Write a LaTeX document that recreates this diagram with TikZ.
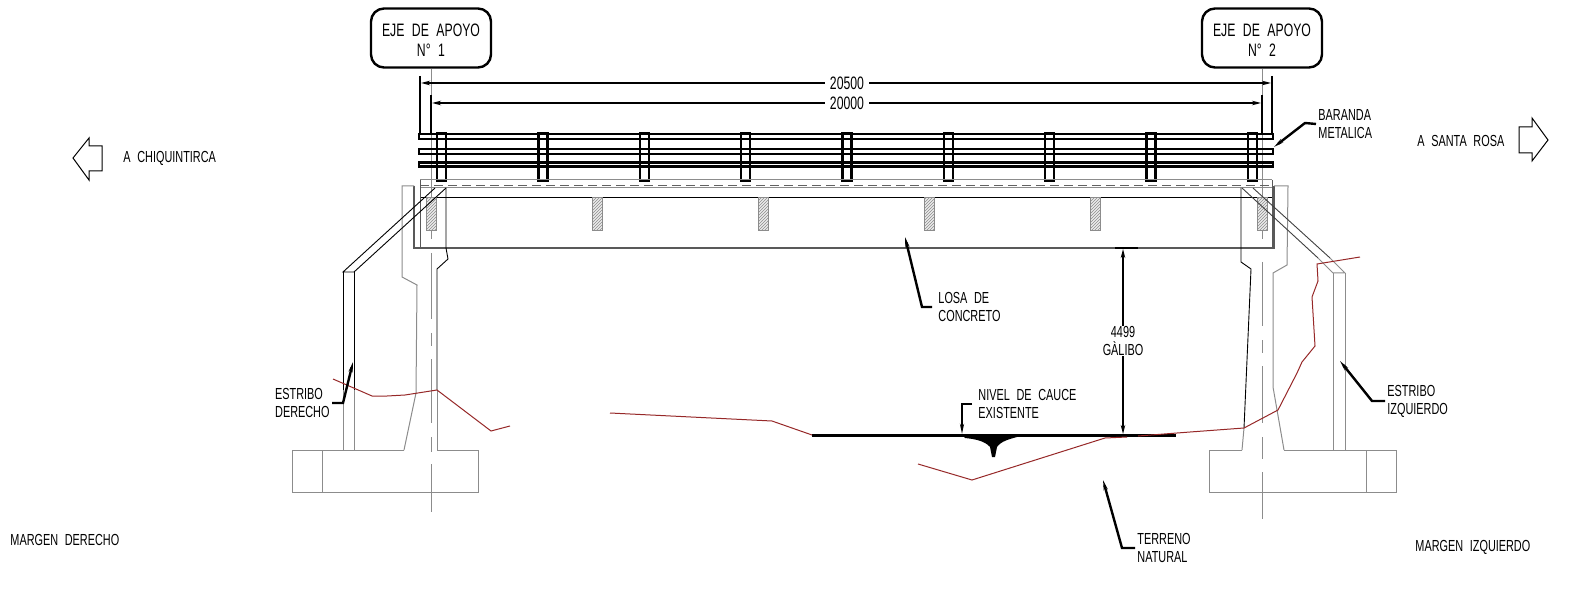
\documentclass[tikz,border=0pt]{standalone}
\usepackage{fontspec}
\setmainfont{Liberation Sans}[FakeStretch=0.68,WordSpace=2.2]
\usetikzlibrary{arrows.meta,patterns}
\definecolor{groundred}{RGB}{150,40,40}
\definecolor{cadgray}{RGB}{140,140,140}

\begin{document}
\begin{tikzpicture}[x=1pt,y=-1pt,line width=0.9pt,
  note/.style={align=left,font=\fontsize{16}{18}\selectfont,inner xsep=2pt,inner ysep=0pt},
  axisbox/.style={draw,line width=2.4pt,rounded corners=13pt,minimum width=120pt,minimum height=59pt,align=center,font=\fontsize{18}{20}\selectfont,inner sep=0pt},
  dimtext/.style={font=\fontsize{18}{18}\selectfont,inner sep=0pt,minimum width=44pt},
  leader/.style={line width=2.4pt,-{Stealth[length=10pt,width=4pt]}},
  dimline/.style={line width=2.4pt,-{Stealth[length=9pt,width=4.5pt]}},
  thin gray/.style={cadgray,line width=1pt},
  rail/.style={draw,line width=2pt},
  post/.style={draw,line width=2.4pt},
  beam/.style={draw=cadgray,line width=1pt,pattern=north east lines,pattern color=cadgray,preaction={fill=gray!15}},
  ground/.style={groundred,line width=1pt}]

  \useasboundingbox (0,0) rectangle (1573,593);

  % axes
  \node[axisbox] (eje1) at (431,38) {\rule{0pt}{18pt}EJE DE APOYO\\N° 1};
  \node[axisbox] (eje2) at (1262,38) {\rule{0pt}{18pt}EJE DE APOYO\\N° 2};
  \draw[thin gray] (eje1.south) -- (431,239) (431,253) -- (431,319) (431,333) -- (431,346)
    (431,359) -- (431,423) (431,437) -- (431,452) (431,464) -- (431,512);
  \draw[thin gray] (eje2.south) -- (1262,239) (1262,262) -- (1262,326) (1262,340) -- (1262,353)
    (1262,366) -- (1262,423) (1262,437) -- (1262,459) (1262,472) -- (1262,519);

  % dimensions
  \node[dimtext] (d1) at (847,83) {20500};
  \node[dimtext] (d2) at (847,103) {20000};
  \draw[dimline] (d1.west) -- (421,83);
  \draw[dimline] (d1.east) -- (1271,83);
  \draw[dimline] (d2.west) -- (432,103);
  \draw[dimline] (d2.east) -- (1261,103);
  \draw[line width=2.4pt] (420,76) -- (420,133) (431,95) -- (431,133);
  \draw[line width=2.4pt] (1272,76) -- (1272,133) (1262,95) -- (1262,133);

  % handrail
  \draw[rail] (419,134) rectangle (1273,139);
  \draw[rail] (419,149) rectangle (1273,154);
  \draw[rail,line width=2.6pt] (419,162.5) rectangle (1273,166.5);
  \foreach \i in {0,...,8}
    \draw[post] ({441.5+101.35*\i-4.5},133) rectangle ({441.5+101.35*\i+4.5},180.5);

  % deck
  \draw[thin gray] (420,180) -- (1272,180) (420,188) -- (1272,188);
  \draw[cadgray!70!black,line width=1pt,dash pattern=on 9pt off 5pt] (420,186) -- (1272,186);
  \draw[line width=1pt] (420,198) -- (1272,198);
  \draw[line width=1pt,black!65] (420,180) -- (420,248) (1272,180) -- (1272,248);
  \draw[line width=1.1pt,black!65] (414,186) -- (414,248) -- (1274,248) -- (1274,186);
  \foreach \i in {0,...,5}
    \draw[beam] ({431+166.2*\i-5},198) rectangle ({431+166.2*\i+5},231);

  % left abutment
  \draw[thin gray] (414,186) -- (402,186) -- (402,277) -- (417,285) -- (416,393) -- (404,450);
  \draw (446,188) -- (446,248) -- (448,259) -- (437,269) -- (437,390);
  \draw[thin gray] (437,390) -- (437,450);
  \draw[thin gray] (404,450) -- (292,450) -- (292,492) -- (478,492) -- (478,450) -- (437,450);
  \draw[thin gray] (322,450) -- (322,492);
  \draw (435,188) -- (343,272) -- (354,272) -- (446,188);
  \draw (343,272) -- (343,390) (354,272) -- (354,390);
  \draw[thin gray] (343,390) -- (343,450) (354,390) -- (354,450);

  % right abutment
  \draw[thin gray] (1274,186) -- (1288,186) -- (1287,265) -- (1273,273) -- (1273,387) -- (1284,450);
  \draw (1241,188) -- (1241,262) -- (1251,269) -- (1244,428);
  \draw[thin gray] (1244,428) -- (1242,450);
  \draw[thin gray] (1284,450) -- (1396,450) -- (1396,492) -- (1209,492) -- (1209,450) -- (1242,450);
  \draw[thin gray] (1366,450) -- (1366,492);
  \draw[black!75] (1242,188) -- (1318,258) (1253,188) -- (1330,258);
  \draw[thin gray] (1318,258) -- (1333,273) -- (1345,273) -- (1330,258);
  \draw[thin gray] (1333,273) -- (1333,450) (1345,273) -- (1345,450);

  % riverbed
  \draw[line width=3pt] (812,435) -- (1176,435);
  \fill (963,436) -- (965,438) .. controls (975,439) and (985,441) .. (990,447) -- (992,457) -- (995,457)
    -- (997,447) .. controls (1001,441) and (1010,439) .. (1017,437) -- cycle;

  % terrain
  \draw[ground] (333,379) -- (372,396) -- (387,396) -- (405,395) -- (437,390) -- (491,431) -- (510,426);
  \draw[ground] (610,413) -- (772,421) -- (812,435);
  \draw[ground] (918,464) -- (972,480) -- (1105,438) -- (1127,437);
  \draw[ground] (1138,436) -- (1190,432) -- (1244,428) -- (1278,410) -- (1297,373) -- (1302,362)
    -- (1315,346) -- (1312,297) -- (1318,281) -- (1317,264) -- (1360,257);

  % labels
  \node[note,anchor=west] (chiq) at (121,158) {A CHIQUINTIRCA};
  \node[note,anchor=west] (santa) at (1415,141) {A SANTA ROSA};
  \node[note,anchor=west] (mder) at (8,540) {MARGEN DERECHO};
  \node[note,anchor=west] (mizq) at (1413,547) {MARGEN IZQUIERDO};
  \node[note,anchor=west,inner xsep=6pt] (losa) at (932,307) {LOSA DE\\CONCRETO};
  \node[note,anchor=west] (baranda) at (1316,124) {BARANDA\\METALICA};
  \node[note,anchor=east] (estder) at (332,403) {ESTRIBO\\DERECHO};
  \node[note,anchor=west] (estizq) at (1385,401) {ESTRIBO\\IZQUIERDO};
  \node[note,anchor=west,inner xsep=6pt] (nivel) at (972,404) {NIVEL DE CAUCE\\EXISTENTE};
  \node[note,anchor=west] (terreno) at (1135,548) {TERRENO\\NATURAL};
  \node[note,align=center] (galibo) at (1123,341) {4499\\GÀLIBO};

  % leaders
  \draw[leader] (losa.west) -- (922,307) -- (905,237);
  \draw[leader] (baranda.west) -- (1305,123) -- (1274,147);
  \draw[leader] (estder.east) -- (343,403) -- (353,362);
  \draw[leader] (estizq.west) -- (1372,401) -- (1340,361);
  \draw[leader] (nivel.west) -- (962,404) -- (962,434);
  \draw[leader] (terreno.west) -- (1122,548) -- (1103,480);
  \draw[dimline] (galibo.north) -- (1123,249);
  \draw[dimline] (galibo.south) -- (1123,434);
  \draw[line width=2.6pt] (1115,248) -- (1138,248);

  % direction arrows
  \draw[line width=1pt] (73,158) -- (89,138) -- (89,146) -- (102,146) -- (102,171) -- (89,171) -- (89,180) -- cycle;
  \draw[line width=1pt] (1548,140) -- (1532,118) -- (1532,127) -- (1519,127) -- (1519,153) -- (1532,153) -- (1532,161) -- cycle;
\end{tikzpicture}
\end{document}
